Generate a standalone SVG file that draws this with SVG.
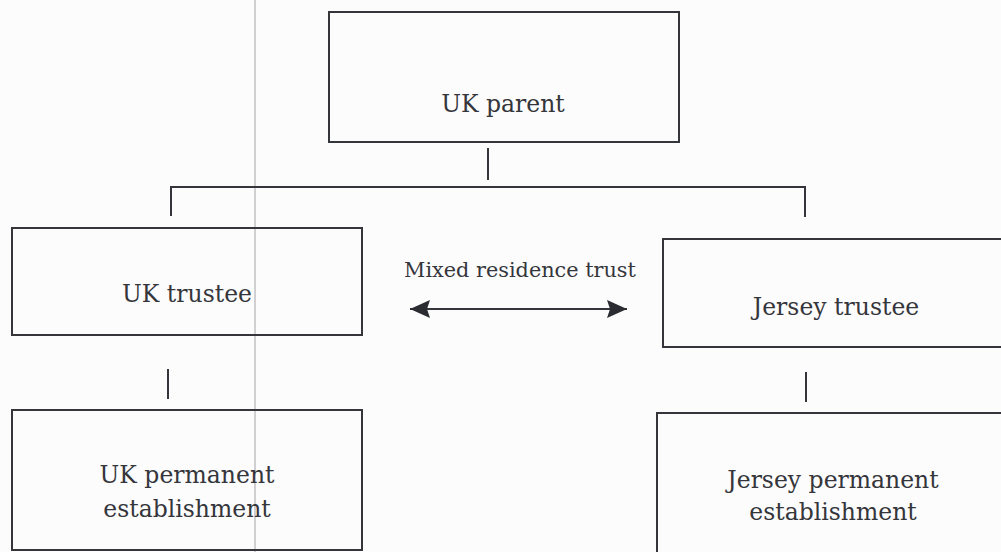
<svg xmlns="http://www.w3.org/2000/svg" width="1001" height="552" viewBox="0 0 1001 552">
<style>
.box{fill:none;stroke:#34363c;stroke-width:2}
.con{fill:none;stroke:#34363c;stroke-width:2}
.lbl{font-family:"DejaVu Serif","Liberation Serif",serif;font-size:23.5px;fill:#35363b;text-anchor:middle}
.small{font-size:20.8px}
</style>
<defs>
<marker id="ah" markerUnits="userSpaceOnUse" markerWidth="22" markerHeight="20" refX="20" refY="9" orient="auto-start-reverse" viewBox="0 0 22 20">
<path d="M0,0 L20,9 L0,18 L3,9 Z" fill="#2a2c32"/>
</marker>
</defs>
<rect width="1001" height="552" fill="#fcfcfd"/>
<line x1="255" y1="0" x2="255" y2="552" stroke="#c2c2c4" stroke-width="1.5"/>
<g id="connectors">
<line class="con" x1="488" y1="148" x2="488" y2="180"/>
<path class="con" d="M171,216 V187 H805 V217"/>
<line class="con" x1="168" y1="369" x2="168" y2="399"/>
<line class="con" x1="806" y1="372" x2="806" y2="402"/>
<line class="con" x1="410" y1="309" x2="627" y2="309" marker-start="url(#ah)" marker-end="url(#ah)"/>
<text class="lbl small" x="520" y="277">Mixed residence trust</text>
</g>
<g id="uk-parent">
<rect class="box" x="329" y="12" width="350" height="130"/>
<text class="lbl" x="503" y="112">UK parent</text>
</g>
<g id="uk-trustee">
<rect class="box" x="12" y="228" width="350" height="107"/>
<text class="lbl" x="187" y="302">UK trustee</text>
</g>
<g id="jersey-trustee">
<rect class="box" x="663" y="239" width="360" height="108"/>
<text class="lbl" x="836" y="315">Jersey trustee</text>
</g>
<g id="uk-pe">
<rect class="box" x="12" y="410" width="350" height="140"/>
<text class="lbl" x="187" y="483">UK permanent</text>
<text class="lbl" x="187" y="517">establishment</text>
</g>
<g id="jersey-pe">
<rect class="box" x="657" y="413" width="380" height="160"/>
<text class="lbl" x="833" y="488">Jersey permanent</text>
<text class="lbl" x="833" y="520">establishment</text>
</g>
</svg>
